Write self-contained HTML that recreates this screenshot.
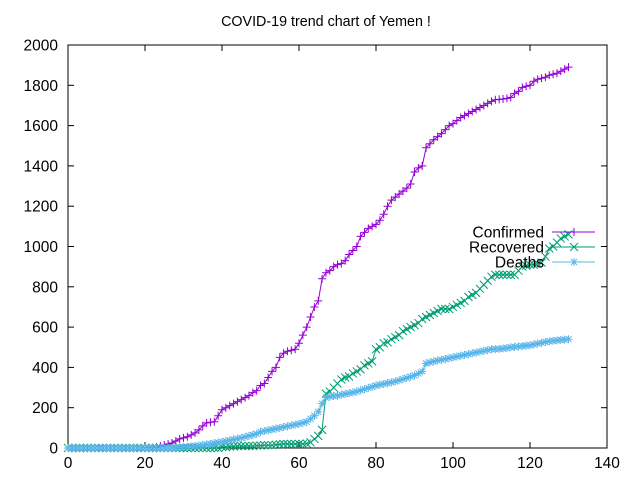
<!DOCTYPE html>
<html><head><meta charset="utf-8"><style>
html,body{margin:0;padding:0;background:#fff;}
svg{display:block;font-family:"Liberation Sans",sans-serif;}
</style></head><body>
<svg id="chart" width="640" height="480">
<text x="326" y="26" text-anchor="middle" font-size="14.3">COVID-19 trend chart of Yemen !</text>
<g id="axes"></g>
<g id="series"></g>
<g id="legend"></g>
</svg>
<script>
const xTicks=[0,20,40,60,80,100,120,140];
const yTicks=[0,200,400,600,800,1000,1200,1400,1600,1800,2000];
const seriesNames=["Confirmed","Recovered","Deaths"];
const confirmed=[0,0,0,0,0,0,0,0,0,0,0,0,0,0,0,0,0,0,0,0,
1,1,2,5,10,15,20,25,35,45,
50,56,65,75,90,110,125,128,130,160,
190,200,210,220,230,240,250,260,275,285,
310,320,350,380,400,450,470,480,485,490,
520,560,600,650,700,730,840,870,880,900,
910,915,930,960,980,1000,1050,1070,1090,1100,
1110,1130,1160,1200,1230,1245,1260,1275,1290,1310,
1370,1390,1400,1490,1510,1530,1545,1560,1580,1600,
1610,1625,1640,1650,1660,1670,1680,1690,1700,1710,
1720,1728,1730,1732,1735,1740,1760,1770,1790,1795,
1800,1820,1830,1835,1840,1850,1855,1860,1870,1880,1890];
const recovered=[0,0,0,0,0,0,0,0,0,0,0,0,0,0,0,0,0,0,0,0,
0,0,0,0,0,0,0,0,0,0,0,0,0,0,0,0,0,0,0,0,
5,5,8,8,10,10,10,10,10,12,
12,14,14,14,16,18,20,20,20,20,
20,20,22,28,45,60,90,270,280,300,
320,340,350,355,370,380,390,410,420,430,
490,500,520,525,540,550,560,580,590,600,
610,620,640,650,660,670,680,690,690,690,
700,710,720,730,750,760,770,790,810,830,
850,860,860,860,860,860,860,880,900,905,
910,910,915,920,950,990,1000,1020,1040,1050,1060];
const deaths=[0,0,0,0,0,0,0,0,0,0,0,0,0,0,0,0,0,0,0,0,
0,0,0,0,0,0,0,0,2,3,
5,6,8,10,12,15,18,20,24,27,
30,34,38,42,46,50,55,60,65,70,
80,84,88,92,96,100,104,108,112,116,
120,125,130,145,160,180,220,250,255,258,
260,265,268,272,276,280,286,292,298,304,
310,314,318,322,326,330,336,342,348,354,
360,370,380,420,425,430,434,438,442,446,
450,454,458,462,466,470,474,478,482,486,
490,491,492,494,496,500,502,504,506,508,
510,514,518,522,526,530,532,534,536,538,540];

const L=68,R=607,T=45,B=448;
const xs=v=>L+(v-0)/(140-0)*(R-L);
const ys=v=>B-(v-0)/(2000-0)*(B-T);
const NS="http://www.w3.org/2000/svg";
function mk(tag,attrs,parent){const e=document.createElementNS(NS,tag);for(const k in attrs)e.setAttribute(k,attrs[k]);parent.appendChild(e);return e;}
const axes=document.getElementById('axes');
const frame=mk('rect',{x:L,y:T,width:R-L,height:B-T,fill:'none',stroke:'#000','stroke-width':1},axes);


xTicks.forEach(t=>{
  const x=xs(t);
  const l1=mk('line',{x1:x,y1:B,x2:x,y2:B-6,stroke:'#000'},axes);
  
  
  const l2=mk('line',{x1:x,y1:T,x2:x,y2:T+6,stroke:'#000'},axes);
  
  
  const tx=mk('text',{x:x,y:B+20,'text-anchor':'middle','font-size':15.5},axes);
  tx.textContent=t;
  
  
});
yTicks.forEach(t=>{
  const y=ys(t);
  const l1=mk('line',{x1:L,y1:y,x2:L+6,y2:y,stroke:'#000'},axes);
  
  
  const l2=mk('line',{x1:R,y1:y,x2:R-6,y2:y,stroke:'#000'},axes);
  
  
  const tx=mk('text',{x:L-10,y:y+5.5,'text-anchor':'end','font-size':15.5},axes);
  tx.textContent=t;
  
  
});
const colors=['#9400d3','#009e73','#56b4e9'];
const datas=[confirmed,recovered,deaths];
function marker(g,type,x,y,c){
  const s=4;
  if(type===0){mk('path',{d:`M${x-s} ${y}H${x+s}M${x} ${y-s}V${y+s}`,stroke:c,fill:'none'},g);}
  else if(type===1){mk('path',{d:`M${x-s} ${y-s}L${x+s} ${y+s}M${x-s} ${y+s}L${x+s} ${y-s}`,stroke:c,fill:'none'},g);}
  else{mk('path',{d:`M${x-s} ${y}H${x+s}M${x} ${y-s}V${y+s}M${x-3} ${y-3}L${x+3} ${y+3}M${x-3} ${y+3}L${x+3} ${y-3}`,stroke:c,fill:'none'},g);}
}
const sg=document.getElementById('series');
datas.forEach((d,i)=>{
  const g=mk('g',{},sg);
  
  
  const pts=d.map((v,k)=>xs(k).toFixed(1)+','+ys(v).toFixed(1)).join(' ');
  const pl=mk('polyline',{points:pts,fill:'none',stroke:colors[i],'stroke-width':1},g);
  
  
  d.forEach((v,k)=>marker(g,i,xs(k),ys(v),colors[i]));
});
const lg=document.getElementById('legend');
seriesNames.forEach((n,i)=>{
  const y=232+i*15;
  const g=mk('g',{},lg);
  
  
  const tx=mk('text',{x:544,y:y+5.5,'text-anchor':'end','font-size':15.5},g);
  tx.textContent=n;
  mk('line',{x1:552,y1:y,x2:595,y2:y,stroke:colors[i]},g);
  marker(g,i,574,y,colors[i]);
});
</script>
</body></html>
